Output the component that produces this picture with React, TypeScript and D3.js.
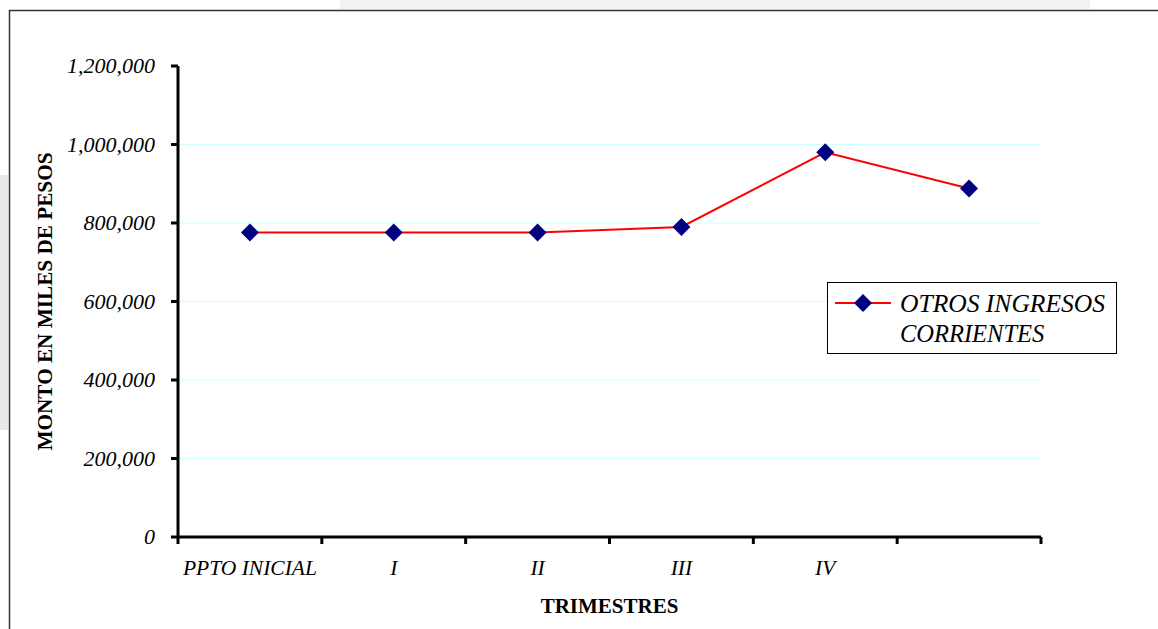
import React from "react";
import * as d3 from "d3";

const categories = ["PPTO INICIAL", "I", "II", "III", "IV", ""];
const values = [776000, 776000, 776000, 790000, 980000, 888000];
const yTicks = [0, 200000, 400000, 600000, 800000, 1000000, 1200000];
const seriesName = ["OTROS INGRESOS", "CORRIENTES"];

const W = 1158;
const H = 629;
const m = { left: 178, right: 1041, top: 66, bottom: 537 };

export default function App() {
  const x = d3.scaleBand<string>().domain(categories.map((c, i) => String(i))).range([m.left, m.right]).padding(0);
  const y = d3.scaleLinear().domain([0, 1200000]).range([m.bottom, m.top]);
  const fmt = (v: number) => (v === 0 ? "0" : d3.format(",")(v));
  const cx = (i: number) => (x(String(i)) as number) + x.bandwidth() / 2;
  const line = d3.line<number>().x((_, i) => cx(i)).y((v) => y(v));
  const diamond = (px: number, py: number, r = 9) =>
    `M${px},${py - r}L${px + r},${py}L${px},${py + r}L${px - r},${py}Z`;
  const tickXs = d3.range(categories.length + 1).map((i) =>
    i < categories.length ? (x(String(i)) as number) : m.right
  );
  const serif = "'Liberation Serif', 'Times New Roman', serif";

  return (
    <svg width={W} height={H} style={{ position: "absolute", left: 0, top: 0 }} fontFamily={serif}>
      <rect x={0} y={0} width={W} height={H} fill="#fff" />
      {/* faint background watermark strips */}
      <rect x={340} y={0} width={750} height={9} fill="#f3f3f3" />
      <rect x={0} y={175} width={8} height={255} fill="#e9e9e9" />
      <rect x={9.5} y={10.5} width={1300} height={800} fill="none" stroke="#333" strokeWidth={1.5} />

      {/* gridlines */}
      {yTicks.filter((t) => t > 0 && t < 1200000).map((t) => (
        <line key={"g" + t} x1={m.left} x2={m.right} y1={y(t)} y2={y(t)} stroke="#ccffff" strokeWidth={1} />
      ))}

      {/* axes */}
      <line x1={m.left} x2={m.left} y1={m.top} y2={m.bottom} stroke="#000" strokeWidth={3} />
      <line x1={m.left} x2={m.right} y1={m.bottom} y2={m.bottom} stroke="#000" strokeWidth={3} />
      {yTicks.map((t) => (
        <g key={"y" + t}>
          <line x1={m.left - 7} x2={m.left} y1={y(t)} y2={y(t)} stroke="#000" strokeWidth={3} />
          <text x={m.left - 23} y={y(t)} dy="0.33em" textAnchor="end" fontStyle="italic" fontSize={22}>
            {fmt(t)}
          </text>
        </g>
      ))}
      {tickXs.map((tx, i) => (
        <line key={"xt" + i} x1={tx} x2={tx} y1={m.bottom} y2={m.bottom + 7} stroke="#000" strokeWidth={3} />
      ))}
      {categories.map((c, i) => (
        <text key={"xl" + i} x={cx(i)} y={575} textAnchor="middle" fontStyle="italic" fontSize={21.5}>
          {c}
        </text>
      ))}

      {/* axis titles */}
      <text x={(m.left + m.right) / 2} y={613} textAnchor="middle" fontWeight="bold" fontSize={21}>
        TRIMESTRES
      </text>
      <text
        transform={`translate(52,${(m.top + m.bottom) / 2}) rotate(-90)`}
        textAnchor="middle"
        fontWeight="bold"
        fontSize={20}
        textLength={298}
        lengthAdjust="spacingAndGlyphs"
      >
        MONTO EN MILES DE PESOS
      </text>

      {/* series */}
      <path d={line(values) || ""} fill="none" stroke="#ff0000" strokeWidth={2} />
      {values.map((v, i) => (
        <path key={"p" + i} d={diamond(cx(i), y(v))} fill="#000080" />
      ))}

      {/* legend */}
      <rect x={827.5} y={282.5} width={289} height={71} fill="#fff" stroke="#000" strokeWidth={1} />
      <line x1={835} x2={891} y1={303} y2={303} stroke="#ff0000" strokeWidth={2} />
      <path d={diamond(863, 303)} fill="#000080" />
      <text x={900} y={312} fontStyle="italic" fontSize={24.5} textLength={205} lengthAdjust="spacingAndGlyphs">
        {seriesName[0]}
      </text>
      <text x={900} y={342} fontStyle="italic" fontSize={24.5}>
        {seriesName[1]}
      </text>
    </svg>
  );
}
